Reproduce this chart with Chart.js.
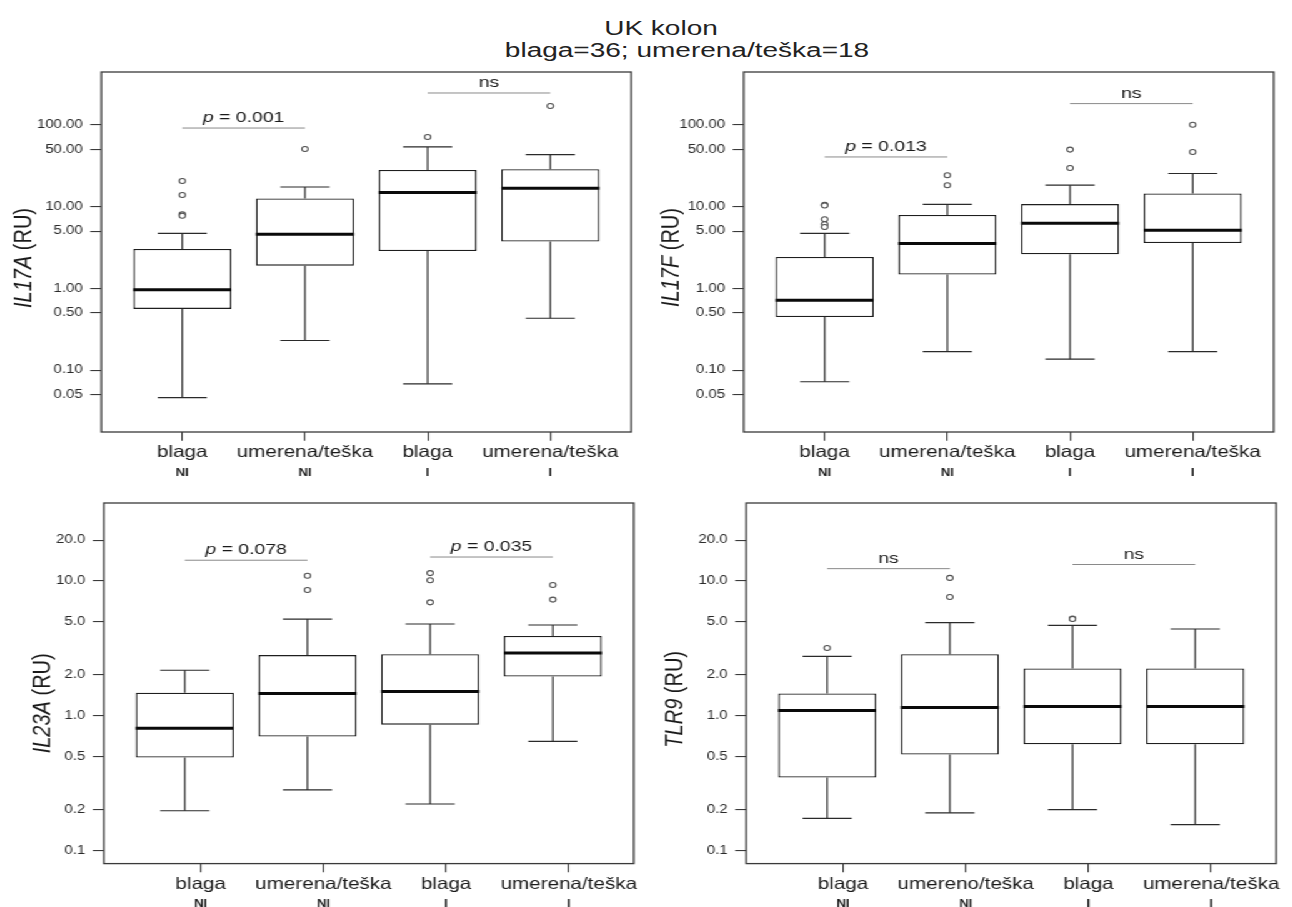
<!DOCTYPE html>
<html>
<head>
<meta charset="utf-8">
<script src="https://cdn.jsdelivr.net/npm/chart.js@4.4.1/dist/chart.umd.min.js"></script>
<style>
  html, body { margin: 0; padding: 0; background: #fff; overflow: hidden; width: 1292px; height: 907px; }
  #wrap { position: absolute; left: 0; top: 0; width: 1034px; height: 907px; transform: scaleX(1.25); transform-origin: 0 0; }
  #wrap canvas { position: absolute; }
  .ttl { position: absolute; font-family: 'Liberation Sans', Arial, sans-serif; font-size: 20px; line-height: 20px;
         color: #222; white-space: nowrap; transform: translateX(-50%) scaleX(1.4); }
</style>
</head>
<body>
<div class="ttl" style="left:661px; top:18px;">UK kolon</div>
<div class="ttl" style="left:687px; top:40px;">blaga=36; umerena/teška=18</div>
<div id="wrap">
  <canvas id="c1" width="511" height="450" style="left:6.3px; top:51.7px;"></canvas>
  <canvas id="c2" width="511" height="450" style="left:519.8px; top:52px;"></canvas>
  <canvas id="c3" width="511" height="450" style="left:7.9px; top:482.7px;"></canvas>
  <canvas id="c4" width="511" height="450" style="left:522px; top:482.7px;"></canvas>
</div>
<script>
// ---------------- data ----------------
const positions = [1, 2, 3, 4];
const categories = ['blaga', 'umerena/teška', 'blaga', 'umerena/teška'];
const categoriesTLR9 = ['blaga', 'umereno/teška', 'blaga', 'umerena/teška'];
const groupLabels = ['NI', 'NI', 'I', 'I'];

const ticksTop = [0.05, 0.1, 0.5, 1, 5, 10, 50, 100];
const ticksBottom = [0.1, 0.2, 0.5, 1, 2, 5, 10, 20];

// IL17A
const il17aLow = [0.046, 0.23, 0.068, 0.43];
const il17aQ1 = [0.56, 1.89, 2.86, 3.72];
const il17aMedian = [0.96, 4.57, 14.8, 16.7];
const il17aQ3 = [3.02, 12.5, 27.9, 28.5];
const il17aHigh = [4.7, 17.3, 53.4, 43.1];
const il17aOutliers = [[20.5, 13.8, 8.0, 7.7], [50.5], [70.7], [169]];
const il17aSigPairs = [[1, 2], [3, 4]];
const il17aSigLevels = [91, 244];
const il17aSigLabels = ['p = 0.001', 'ns'];

// IL17F
const il17fLow = [0.072, 0.168, 0.136, 0.168];
const il17fQ1 = [0.446, 1.47, 2.6, 3.58];
const il17fMedian = [0.713, 3.52, 6.23, 5.12];
const il17fQ3 = [2.41, 7.87, 10.7, 14.4];
const il17fHigh = [4.7, 10.6, 18.2, 25.3];
const il17fOutliers = [[10.5, 10.3, 6.97, 6.06, 5.62], [24.1, 18.2], [49.6, 29.6], [100, 46.4]];
const il17fSigPairs = [[1, 2], [3, 4]];
const il17fSigLevels = [40.3, 181];
const il17fSigLabels = ['p = 0.013', 'ns'];

// IL23A
const il23aLow = [0.197, 0.281, 0.221, 0.644];
const il23aQ1 = [0.489, 0.699, 0.857, 1.95];
const il23aMedian = [0.805, 1.46, 1.51, 2.91];
const il23aQ3 = [1.48, 2.81, 2.85, 3.89];
const il23aHigh = [2.17, 5.2, 4.78, 4.7];
const il23aOutliers = [[], [10.9, 8.54], [11.4, 10.1, 6.92], [9.3, 7.25]];
const il23aSigPairs = [[1, 2], [3, 4]];
const il23aSigLevels = [14.2, 15.0];
const il23aSigLabels = ['p = 0.078', 'p = 0.035'];

// TLR9
const tlr9Low = [0.173, 0.19, 0.201, 0.1555];
const tlr9Q1 = [0.347, 0.514, 0.612, 0.612];
const tlr9Median = [1.09, 1.15, 1.17, 1.17];
const tlr9Q3 = [1.46, 2.85, 2.24, 2.24];
const tlr9High = [2.75, 4.89, 4.67, 4.39];
const tlr9Outliers = [[3.17], [10.5, 7.58], [5.24, 5.2], []];
const tlr9SigPairs = [[1, 2], [3, 4]];
const tlr9SigLevels = [12.3, 13.2];
const tlr9SigLabels = ['ns', 'ns'];

// ---------------- drawing ----------------
const FONT = "'Liberation Sans', Arial, Helvetica, sans-serif";
Chart.defaults.font.family = FONT;
Chart.defaults.color = '#1a1a1a';

const BOX_HALF = 0.4, CAP_HALF = 0.2;

const decor = {
  id: 'decor',
  afterDatasetsDraw(chart, args, o) {
    const { ctx, chartArea: a, scales } = chart;
    const xs = scales.x, ys = scales.y;
    ctx.save();
    // frame
    ctx.strokeStyle = '#3a3a3a';
    ctx.lineWidth = 1.3;
    ctx.strokeRect(a.left, a.top, a.right - a.left, a.bottom - a.top);
    // significance labels
    ctx.fillStyle = '#1a1a1a';
    ctx.textBaseline = 'alphabetic';
    o.sigPairs.forEach((pr, k) => {
      const cx = xs.getPixelForValue((pr[0] + pr[1]) / 2);
      const by = ys.getPixelForValue(o.sigLevels[k]) - 6;
      const label = o.sigLabels[k];
      if (label.startsWith('p ')) {
        ctx.font = 'italic 15.5px ' + FONT;
        const w1 = ctx.measureText('p').width;
        ctx.font = '15.5px ' + FONT;
        const rest = label.slice(1);
        const w2 = ctx.measureText(rest).width;
        const x0 = cx - (w1 + w2) / 2;
        ctx.textAlign = 'left';
        ctx.font = 'italic 15.5px ' + FONT;
        ctx.fillText('p', x0, by);
        ctx.font = '15.5px ' + FONT;
        ctx.fillText(rest, x0 + w1, by);
      } else {
        ctx.font = '15.5px ' + FONT;
        ctx.textAlign = 'center';
        ctx.fillText(label, cx, by);
      }
    });
    // y axis title: italic gene name + (RU)
    ctx.translate(a.left + o.titleDx, (a.top + a.bottom) / 2 + o.titleDy);
    ctx.rotate(-Math.PI / 2);
    ctx.textBaseline = 'middle';
    ctx.textAlign = 'left';
    ctx.font = 'italic 20px ' + FONT;
    const g = o.gene;
    const wg = ctx.measureText(g).width;
    ctx.font = '20px ' + FONT;
    const ru = ' (RU)';
    const wr = ctx.measureText(ru).width;
    const s = -(wg + wr) / 2;
    ctx.font = 'italic 20px ' + FONT;
    ctx.fillText(g, s, 0);
    ctx.font = '20px ' + FONT;
    ctx.fillText(ru, s + wg, 0);
    ctx.restore();
  }
};

function makePanel(id, d, cfg) {
  const boxes = [], whiskers = [], caps = [], medians = [], outliers = [], sig = [];
  positions.forEach((p, i) => {
    boxes.push({ x: p, y: [d.q1[i], d.q3[i]] });
    whiskers.push({ x: p, y: d.q3[i] }, { x: p, y: d.high[i] }, { x: p, y: null },
                  { x: p, y: d.q1[i] }, { x: p, y: d.low[i] }, { x: p, y: null });
    caps.push({ x: p - CAP_HALF, y: d.high[i] }, { x: p + CAP_HALF, y: d.high[i] }, { x: p, y: null },
              { x: p - CAP_HALF, y: d.low[i] }, { x: p + CAP_HALF, y: d.low[i] }, { x: p, y: null });
    medians.push({ x: p - BOX_HALF, y: d.median[i] }, { x: p + BOX_HALF, y: d.median[i] }, { x: p, y: null });
    d.outliers[i].forEach(v => outliers.push({ x: p, y: v }));
  });
  d.sigPairs.forEach((pr, k) => {
    sig.push({ x: pr[0], y: d.sigLevels[k] }, { x: pr[1], y: d.sigLevels[k] }, { x: pr[1], y: null });
  });

  const lineDs = (data, color, width, order) => ({
    type: 'line', data, borderColor: color, borderWidth: width, pointRadius: 0,
    spanGaps: false, tension: 0, fill: false, order, borderCapStyle: 'butt'
  });
  const fourTicks = s => { s.ticks = positions.map(v => ({ value: v })); };

  return new Chart(document.getElementById(id), {
    type: 'bar',
    data: {
      datasets: [
        { type: 'bar', data: boxes, backgroundColor: '#fff', borderColor: '#1e1e1e', borderWidth: 1.3,
          borderSkipped: false, barPercentage: 0.8, categoryPercentage: 1.0, order: 4 },
        lineDs(whiskers, '#2a2a2a', 1.2, 3),
        lineDs(caps, '#2a2a2a', 1.2, 3),
        lineDs(medians, '#0a0a0a', 3, 1),
        lineDs(sig, '#8a8a8a', 1, 2),
        { type: 'scatter', data: outliers, showLine: false, pointRadius: 2.5, pointBorderWidth: 1.1,
          pointBorderColor: '#505050', pointBackgroundColor: '#fff', order: 0 }
      ]
    },
    options: {
      responsive: false, animation: false, devicePixelRatio: 1, events: [],
      layout: { padding: { top: 20, left: 0, right: 12, bottom: cfg.padBottom } },
      plugins: {
        legend: { display: false }, tooltip: { enabled: false },
        decor: { gene: cfg.gene, titleDx: cfg.titleDx, titleDy: cfg.titleDy,
                 sigPairs: d.sigPairs, sigLevels: d.sigLevels, sigLabels: d.sigLabels }
      },
      scales: {
        x: { type: 'linear', min: 0.34, max: 4.66, display: false, offset: false,
             grid: { offset: false }, afterBuildTicks: fourTicks },
        xl: { type: 'linear', position: 'bottom', axis: 'x', min: cfg.tickMin, max: cfg.tickMax,
              offset: false, weight: 1, afterBuildTicks: fourTicks,
              afterFit: s => { s.height = 30; },
              grid: { display: true, drawOnChartArea: false, drawTicks: true, tickLength: 8.7,
                      color: '#3a3a3a', lineWidth: 1.1, offset: false },
              border: { display: false },
              ticks: { autoSkip: false, maxRotation: 0, minRotation: 0, padding: 2, color: '#1a1a1a',
                       font: { size: 16.5 }, callback: (v, i) => cfg.cats[i] } },
        xn: { type: 'linear', position: 'bottom', axis: 'x', min: cfg.tickMin, max: cfg.tickMax,
              offset: false, weight: 2, afterBuildTicks: fourTicks,
              afterFit: s => { s.height = 20; },
              grid: { display: false, drawTicks: false, tickLength: 0, offset: false },
              border: { display: false },
              ticks: { autoSkip: false, maxRotation: 0, minRotation: 0, padding: 4.5, color: '#1a1a1a',
                       font: { size: 10.5, weight: 'bold' }, callback: (v, i) => groupLabels[i] } },
        y: { type: 'logarithmic', min: cfg.yMin, max: cfg.yMax,
             afterBuildTicks: s => { s.ticks = cfg.yTicks.map(v => ({ value: v })); },
             afterFit: s => { s.width = 75; },
             grid: { drawOnChartArea: false, drawTicks: true, tickLength: 8.8, color: '#3a3a3a', lineWidth: 1.1 },
             border: { display: false },
             ticks: { padding: 6, color: '#2a2a2a', font: { size: 12 },
                      callback: v => Number(v).toFixed(cfg.decimals) } }
      }
    },
    plugins: [decor]
  });
}

makePanel('c1',
  { low: il17aLow, q1: il17aQ1, median: il17aMedian, q3: il17aQ3, high: il17aHigh, outliers: il17aOutliers,
    sigPairs: il17aSigPairs, sigLevels: il17aSigLevels, sigLabels: il17aSigLabels },
  { gene: 'IL17A', cats: categories, yTicks: ticksTop, decimals: 2, yMin: 0.0175, yMax: 440.6,
    tickMin: 0.34, tickMax: 4.66, titleDx: -62, titleDy: 6, padBottom: 20 });

makePanel('c2',
  { low: il17fLow, q1: il17fQ1, median: il17fMedian, q3: il17fQ3, high: il17fHigh, outliers: il17fOutliers,
    sigPairs: il17fSigPairs, sigLevels: il17fSigLevels, sigLabels: il17fSigLabels },
  { gene: 'IL17F', cats: categories, yTicks: ticksTop, decimals: 2, yMin: 0.0175, yMax: 440.6,
    tickMin: 0.34, tickMax: 4.66, titleDx: -57.6, titleDy: 5.5, padBottom: 20 });

makePanel('c3',
  { low: il23aLow, q1: il23aQ1, median: il23aMedian, q3: il23aQ3, high: il23aHigh, outliers: il23aOutliers,
    sigPairs: il23aSigPairs, sigLevels: il23aSigLevels, sigLabels: il23aSigLabels },
  { gene: 'IL23A', cats: categories, yTicks: ticksBottom, decimals: 1, yMin: 0.0799, yMax: 37.73,
    tickMin: 0.21, tickMax: 4.53, titleDx: -49, titleDy: 20, padBottom: 19.4 });

makePanel('c4',
  { low: tlr9Low, q1: tlr9Q1, median: tlr9Median, q3: tlr9Q3, high: tlr9High, outliers: tlr9Outliers,
    sigPairs: tlr9SigPairs, sigLevels: tlr9SigLevels, sigLabels: tlr9SigLabels },
  { gene: 'TLR9', cats: categoriesTLR9, yTicks: ticksBottom, decimals: 1, yMin: 0.0799, yMax: 37.73,
    tickMin: 0.21, tickMax: 4.53, titleDx: -56.6, titleDy: 16, padBottom: 19.4 });
</script>
</body>
</html>
